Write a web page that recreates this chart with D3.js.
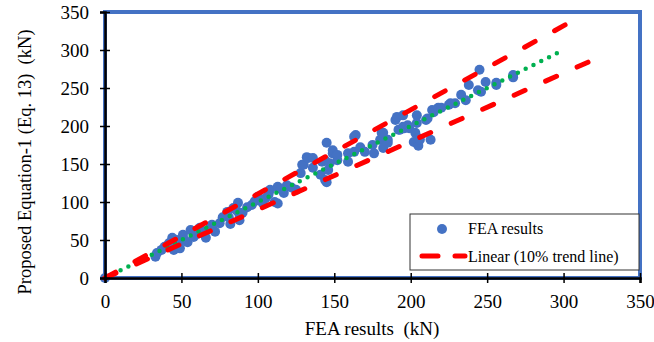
<!DOCTYPE html>
<html>
<head>
<meta charset="utf-8">
<script src="https://cdn.jsdelivr.net/npm/d3@7"></script>
<style>
  body { margin: 0; background: #fff; }
  svg text { font-family: "Liberation Serif", "Times New Roman", serif; fill: #000; }
</style>
</head>
<body>
<svg id="chart" width="654" height="342"></svg>
<script>
const serif = '"Liberation Serif", "Times New Roman", serif';

// FEA results (x) vs proposed equation (y), kN
const feaX = [0, 33, 34, 37, 41, 44, 45, 47, 49, 51, 54, 56, 58, 62, 66, 69, 72, 75, 77, 80,
  81, 82, 84, 86, 87, 88, 88, 93, 96, 100, 105, 108, 111, 113, 117, 119, 125, 128, 129, 130,
  132, 133, 136, 136, 141, 142, 144, 144, 145, 145, 146, 147, 149, 149, 152, 152, 159, 159, 163, 163,
  164, 167, 170, 175, 176, 180, 181, 182, 182, 185, 185, 190, 191, 192, 193, 195, 195, 196, 198, 199,
  202, 203, 204, 204, 205, 205, 206, 210, 211, 213, 214, 215, 218, 220, 225, 226, 229, 233, 236, 238,
  244, 245, 246, 249, 256, 256, 267, 267, 113, 100,
  39, 42, 48, 52, 60, 64, 70, 90, 98, 103, 107, 115, 122];
const propY = [0, 28, 33, 37, 43, 53, 37, 50, 39, 57, 47, 63, 54, 66, 53, 67, 61, 72, 80, 87,
  80, 71, 92, 89, 99, 83, 76, 93, 96, 107, 105, 116, 100, 120, 112, 122, 116, 138, 149, 149,
  159, 158, 158, 145, 136, 153, 129, 155, 178, 126, 142, 151, 164, 168, 155, 162, 153, 164, 186, 166,
  188, 172, 166, 175, 164, 182, 191, 171, 191, 182, 178, 208, 212, 195, 195, 214, 199, 197, 201, 197,
  179, 191, 214, 204, 174, 184, 182, 208, 210, 182, 221, 218, 224, 224, 228, 230, 230, 241, 234, 254,
  247, 274, 245, 258, 257, 254, 264, 267, 98, 103,
  41, 46, 44, 50, 58, 61, 70, 86, 101, 99, 110, 117, 119];

// trend lines (start / end points)
const equalLine = [[0, 0], [298, 298]];
const upperLine = [[0, 0], [301, 333]];
const lowerLine = [[0, 0], [316, 284]];

const xTicks = [0, 50, 100, 150, 200, 250, 300, 350];
const yTicks = [0, 50, 100, 150, 200, 250, 300, 350];

const svg = d3.select('#chart');
const x = d3.scaleLinear().domain([0, 350]).range([105, 640]);
const y = d3.scaleLinear().domain([0, 350]).range([278, 12]);

// blue plot frame
svg.append('rect')
  .attr('x', x(0)).attr('y', y(350))
  .attr('width', x(350) - x(0)).attr('height', y(0) - y(350))
  .attr('fill', 'none').attr('stroke', '#4472C4').attr('stroke-width', 4);

// points
svg.append('g').selectAll('circle')
  .data(feaX.map((d, i) => [d, propY[i]]))
  .enter().append('circle')
  .attr('cx', d => x(d[0]))
  .attr('cy', d => y(d[1]))
  .attr('r', 5)
  .attr('fill', '#4472C4');

const line = d3.line().x(d => x(d[0])).y(d => y(d[1]));

svg.append('path').datum(equalLine)
  .attr('d', line).attr('fill', 'none')
  .attr('stroke', '#00B050').attr('stroke-width', 4.5)
  .attr('stroke-linecap', 'round').attr('stroke-dasharray', '0 8.7');

// 16 dashes per line, starting and ending on a dash
[upperLine, lowerLine].forEach(l => {
  const p = svg.append('path').datum(l)
    .attr('d', line).attr('fill', 'none')
    .attr('stroke', '#FF0000').attr('stroke-width', 5)
    .attr('stroke-linecap', 'round');
  const len = p.node().getTotalLength();
  const dash = 12;
  p.attr('stroke-dasharray', dash + ' ' + ((len - dash) / 15 - dash));
});

// axes with cross ticks
const gx = svg.append('g')
  .attr('transform', 'translate(0,' + y(0) + ')')
  .call(d3.axisBottom(x).tickValues(xTicks).tickSize(5))
  .attr('font-family', serif).attr('font-size', 19);
gx.selectAll('.tick line').attr('y1', -5).attr('y2', 5).attr('stroke-width', 1.5);
gx.select('.domain').attr('stroke-width', 2.5);
gx.selectAll('.tick text').style('font-family', serif).style('font-size', '19px').attr('y', 30).attr('dy', 0);

const gy = svg.append('g')
  .attr('transform', 'translate(' + x(0) + ',0)')
  .call(d3.axisLeft(y).tickValues(yTicks).tickSize(5).tickPadding(11))
  .attr('font-family', serif).attr('font-size', 19);
gy.selectAll('.tick line').attr('x1', -5).attr('x2', 5).attr('stroke-width', 1.5);
gy.select('.domain').attr('stroke-width', 2.5);
gy.selectAll('.tick text').style('font-family', serif).style('font-size', '19px');

// axis titles
svg.append('text')
  .attr('x', 372).attr('y', 335)
  .attr('text-anchor', 'middle')
  .style('font-size', '19px')
  .attr('xml:space', 'preserve')
  .text('FEA results  (kN)');

svg.append('text')
  .attr('transform', 'translate(31,162) rotate(-90)')
  .attr('text-anchor', 'middle')
  .style('font-size', '18.5px')
  .attr('xml:space', 'preserve')
  .text('Proposed Equation-1 (Eq. 13)  (kN)');

// legend
const lg = svg.append('g');
lg.append('rect')
  .attr('x', 410).attr('y', 214).attr('width', 229).attr('height', 56)
  .attr('fill', '#fff').attr('stroke', '#333').attr('stroke-width', 1);
lg.append('circle').attr('cx', 442).attr('cy', 229).attr('r', 5).attr('fill', '#4472C4');
lg.append('text').attr('x', 468).attr('y', 234).style('font-size', '16px').text('FEA results');
lg.append('path')
  .attr('d', 'M422,256H438M455,256H465')
  .attr('stroke', '#FF0000').attr('stroke-width', 5).attr('stroke-linecap', 'round');
lg.append('text').attr('x', 468).attr('y', 262).style('font-size', '16px').text('Linear (10% trend line)');
</script>
</body>
</html>
